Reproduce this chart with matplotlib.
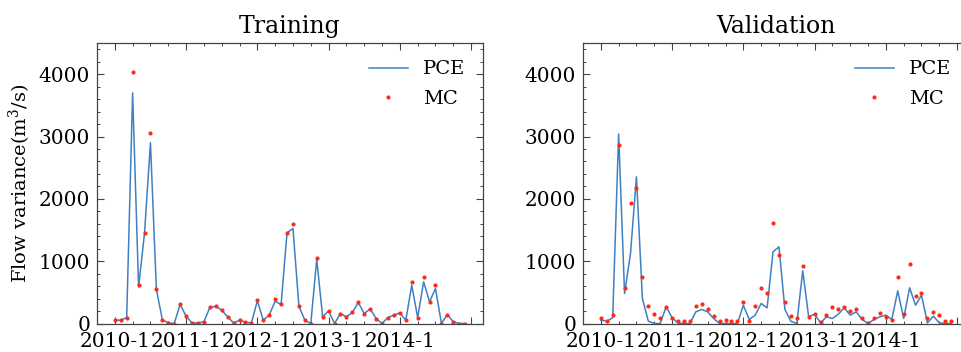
import matplotlib
matplotlib.use("Agg")
import matplotlib.pyplot as plt
from matplotlib.ticker import MultipleLocator

plt.rcParams['font.family'] = ['DejaVu Serif']
plt.rcParams['mathtext.fontset'] = 'dejavuserif'

tick_labels = ['2010-1', '2011-1', '2012-1', '2013-1', '2014-1']
tick_positions = [0, 12, 24, 36, 48, 60]

train_pce = [53, 53, 96, 3700, 589, 1445, 2900, 546, 64, 10,
             0, 305, 118, 10, 10, 27, 257, 278, 214, 107,
             10, 53, 21, 10, 364, 53, 134, 358, 305, 1455,
             1525, 278, 53, 0, 1027, 107, 203, 0, 160, 107,
             177, 337, 160, 235, 80, 0, 96, 134, 171, 53,
             615, 96, 669, 348, 562, 0, 144, 27, 0, 0]
train_mc = [64, 53, 96, 4034, 620, 1455, 3060, 546, 64, 10,
            0, 305, 118, 10, 10, 27, 257, 278, 214, 107,
            10, 53, 21, 10, 375, 53, 134, 400, 305, 1455,
            1600, 278, 53, 0, 1043, 107, 203, 0, 160, 107,
            177, 337, 160, 235, 80, 0, 96, 134, 171, 53,
            669, 96, 738, 348, 615, 0, 144, 27, 0, 0]

val_pce = [53, 37, 91, 3039, 481, 1123, 2354, 401, 37, 0,
           0, 267, 96, 5, 0, 0, 187, 225, 187, 80,
           0, 0, 0, 0, 294, 64, 134, 321, 251, 1150,
           1230, 225, 37, 0, 845, 107, 150, 10, 107, 80,
           150, 251, 134, 187, 64, 0, 64, 107, 134, 64,
           524, 80, 573, 294, 455, 10, 118, 10, 0, 0]
val_mc = [91, 37, 144, 2862, 562, 1926, 2167, 738, 278, 160,
          96, 267, 96, 37, 37, 37, 278, 305, 225, 118,
          37, 64, 37, 37, 348, 37, 284, 562, 492, 1616,
          1097, 348, 118, 96, 920, 107, 150, 27, 134, 267,
          225, 267, 198, 225, 96, 10, 96, 171, 107, 53,
          749, 160, 952, 444, 492, 91, 187, 134, 37, 37]

months = list(range(len(train_pce)))

W, H = 962, 352
fig = plt.figure(figsize=(W / 100, H / 100), dpi=100)
ax_w = 386 / W
ax_b = (H - 323.5) / H
ax_h = 280.5 / H
ax1 = fig.add_axes([97 / W, ax_b, ax_w, ax_h])
ax2 = fig.add_axes([583 / W, ax_b, ax_w, ax_h])

line_color = '#3f80c2'
dot_color = '#ff2a1a'
spine_color = '#444444'

for ax, pce, mc, title in [(ax1, train_pce, train_mc, 'Training'),
                           (ax2, val_pce, val_mc, 'Validation')]:
    ax.plot(months, pce, color=line_color, lw=1.1, label='PCE')
    ax.plot(months, mc, linestyle='none', marker='o', ms=3.0,
            color=dot_color, mec='none', label='MC')
    ax.set_xlim(-3, 62)
    ax.set_ylim(0, 4500)
    ax.set_xticks(tick_positions)
    ax.set_xticklabels(tick_labels + [''])
    ax.xaxis.set_minor_locator(MultipleLocator(3))
    ax.yaxis.set_major_locator(MultipleLocator(1000))
    ax.yaxis.set_minor_locator(MultipleLocator(200))
    ax.tick_params(which='both', direction='in', top=True, right=True,
                   labelsize=14.5, color=spine_color)
    ax.tick_params(axis='x', which='major', pad=6)
    ax.tick_params(axis='y', which='major', pad=5)
    ax.tick_params(which='major', length=5, width=0.8)
    ax.tick_params(which='minor', length=2.5, width=0.7)
    for s in ax.spines.values():
        s.set_color(spine_color)
        s.set_linewidth(0.9)
    ax.set_title(title, fontsize=17, pad=7)
    ax.legend(loc='upper right', frameon=False, fontsize=14,
              handlelength=2.0, labelspacing=0.6)

ax1.set_ylabel('Flow variance(m$^3$/s)', fontsize=14, labelpad=4)

fig.savefig('out.png', dpi=100)
